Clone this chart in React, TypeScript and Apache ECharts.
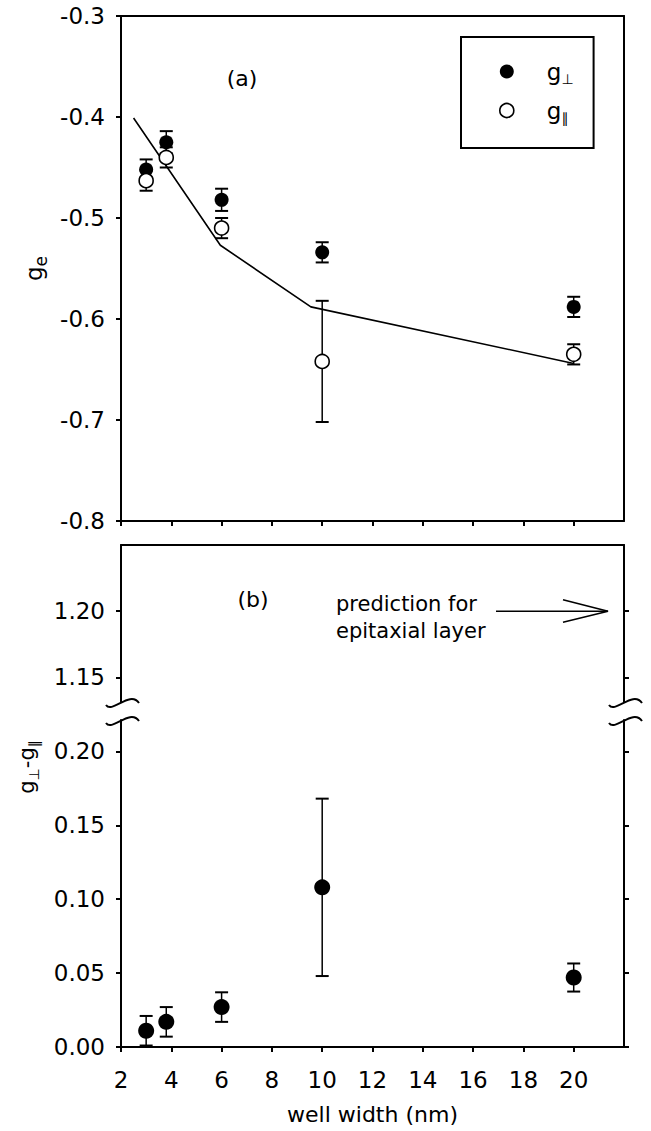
import React, { useEffect, useRef } from "react";
import * as echarts from "echarts";

// ---------- data ----------
const wellWidths = [3, 3.8, 6, 10, 20];
const gPerp = [-0.452, -0.425, -0.482, -0.534, -0.588];
const gPerpErr = [0.01, 0.011, 0.011, 0.01, 0.01];
const gPar = [-0.463, -0.44, -0.51, -0.642, -0.635];
const gParErr = [0.01, 0.01, 0.01, 0.06, 0.01];
const gDiff = [0.011, 0.017, 0.027, 0.108, 0.047];
const gDiffErr = [0.01, 0.01, 0.01, 0.06, 0.0095];
const theoryWidths = [2.5, 5.95, 9.55, 20];
const theoryG = [-0.401, -0.527, -0.588, -0.644];
const epitaxialPrediction = [1.2];

const xTicks = [2, 4, 6, 8, 10, 12, 14, 16, 18, 20];
const topYTicks = [-0.8, -0.7, -0.6, -0.5, -0.4, -0.3];
const upperBreakTicks = [1.15, 1.2];
const lowerBreakTicks = [0, 0.05, 0.1, 0.15, 0.2];

// ---------- layout ----------
const FONT = "DejaVu Sans";
const L = 121;
const R = 624;
const G0 = { top: 16, bottom: 521 };
const G1 = { top: 545, bottom: 702 };
const G2 = { top: 720, bottom: 1047 };

const axisLine = { show: true, onZero: false, lineStyle: { color: "#000", width: 2 } };
const noTick = { show: false };
const noLabel = { show: false };
const noSplit = { show: false };
const tickOut = (vals: number[]) => ({
  show: true,
  inside: false,
  length: 5,
  customValues: vals,
  lineStyle: { color: "#000", width: 2 },
});
const labelStyle = { color: "#000", fontFamily: FONT, fontSize: 23 };

const subRich = (big: number, small: number, drop: number) => ({
  g: { fontFamily: FONT, color: "#000", fontSize: big, lineHeight: big, verticalAlign: "top" },
  s: {
    fontFamily: FONT,
    color: "#000",
    fontSize: small,
    lineHeight: small,
    verticalAlign: "top",
    padding: [drop, 0, 0, 0],
  },
});

function errorBarRenderer(capHalf: number) {
  return (params: any, api: any) => {
    const x = api.value(0);
    const y = api.value(1);
    const e = api.value(2);
    const top = api.coord([x, y + e]);
    const bot = api.coord([x, y - e]);
    return {
      type: "group",
      children: [
        {
          type: "line",
          shape: { x1: top[0], y1: top[1], x2: bot[0], y2: bot[1] },
          style: { stroke: "#000", lineWidth: 1.5 },
        },
        {
          type: "line",
          shape: { x1: top[0] - capHalf, y1: top[1], x2: top[0] + capHalf, y2: top[1] },
          style: { stroke: "#000", lineWidth: 2 },
        },
        {
          type: "line",
          shape: { x1: bot[0] - capHalf, y1: bot[1], x2: bot[0] + capHalf, y2: bot[1] },
          style: { stroke: "#000", lineWidth: 2 },
        },
      ],
    };
  };
}

function breakMark(cx: number, cy: number) {
  return {
    type: "bezierCurve",
    shape: {
      x1: cx - 15,
      y1: cy + 3,
      cpx1: cx - 9,
      cpy1: cy + 12,
      cpx2: cx + 9,
      cpy2: cy - 12,
      x2: cx + 18,
      y2: cy + 1,
    },
    style: { stroke: "#000", lineWidth: 2, fill: null },
    silent: true,
  };
}

function buildOption() {
  const grids = [G0, G1, G2].map((g) => ({
    left: L,
    top: g.top,
    width: R - L,
    height: g.bottom - g.top,
    containLabel: false,
    outerBoundsMode: "none",
  }));

  const xBase = { type: "value", min: 2, max: 22, splitLine: noSplit, axisLine };

  const xAxis = [
    { ...xBase, gridIndex: 0, position: "bottom", axisTick: tickOut(xTicks), axisLabel: noLabel },
    { ...xBase, gridIndex: 0, position: "top", axisTick: noTick, axisLabel: noLabel },
    { ...xBase, gridIndex: 1, position: "top", axisTick: noTick, axisLabel: noLabel },
    {
      ...xBase,
      gridIndex: 2,
      position: "bottom",
      axisTick: tickOut(xTicks),
      axisLabel: { ...labelStyle, customValues: xTicks, margin: 21 },
      name: "well width (nm)",
      nameLocation: "middle",
      nameGap: 56,
      nameTextStyle: { color: "#000", fontFamily: FONT, fontSize: 22 },
    },
  ];

  const topRange = { min: -0.8, max: -0.3, interval: 0.1 };
  const upRange = { min: 1.1314, max: 1.25 };
  const lowRange = { min: 0, max: 0.2212 };

  const yAxis = [
    {
      type: "value",
      gridIndex: 0,
      position: "left",
      ...topRange,
      axisLine,
      splitLine: noSplit,
      axisTick: tickOut(topYTicks),
      axisLabel: { ...labelStyle, customValues: topYTicks, margin: 16, formatter: (v: number) => v.toFixed(1) },
      name: "{g|g}{s|e}",
      nameLocation: "middle",
      nameGap: 68,
      nameTextStyle: { color: "#000", rich: subRich(23, 17, 10) },
    },
    { type: "value", gridIndex: 0, position: "right", ...topRange, axisLine, splitLine: noSplit, axisTick: noTick, axisLabel: noLabel },
    {
      type: "value",
      gridIndex: 1,
      position: "left",
      ...upRange,
      axisLine,
      splitLine: noSplit,
      axisTick: tickOut(upperBreakTicks),
      axisLabel: { ...labelStyle, customValues: upperBreakTicks, margin: 16, formatter: (v: number) => v.toFixed(2) },
    },
    { type: "value", gridIndex: 1, position: "right", ...upRange, axisLine, splitLine: noSplit, axisTick: tickOut(upperBreakTicks), axisLabel: noLabel },
    {
      type: "value",
      gridIndex: 2,
      position: "left",
      ...lowRange,
      axisLine,
      splitLine: noSplit,
      axisTick: tickOut(lowerBreakTicks),
      axisLabel: { ...labelStyle, customValues: lowerBreakTicks, margin: 16, formatter: (v: number) => v.toFixed(2) },
    },
    { type: "value", gridIndex: 2, position: "right", ...lowRange, axisLine, splitLine: noSplit, axisTick: tickOut(lowerBreakTicks), axisLabel: noLabel },
  ];

  const openStyle = { color: "#fff", borderColor: "#000", borderWidth: 1.6, opacity: 1 };

  const series: any[] = [
    {
      name: "theory",
      type: "line",
      xAxisIndex: 0,
      yAxisIndex: 0,
      data: theoryWidths.map((x, i) => [x, theoryG[i]]),
      symbol: "none",
      lineStyle: { color: "#000", width: 1.6 },
      z: 1,
      silent: true,
    },
    {
      name: "g⊥ error",
      type: "custom",
      xAxisIndex: 0,
      yAxisIndex: 0,
      data: wellWidths.map((x, i) => [x, gPerp[i], gPerpErr[i]]),
      encode: { x: 0, y: 1 },
      renderItem: errorBarRenderer(6.5),
      z: 2,
      silent: true,
    },
    {
      name: "g⊥",
      type: "scatter",
      xAxisIndex: 0,
      yAxisIndex: 0,
      data: wellWidths.map((x, i) => [x, gPerp[i]]),
      symbol: "circle",
      symbolSize: 14,
      itemStyle: { color: "#000", opacity: 1 },
      z: 3,
    },
    {
      name: "g∥ error",
      type: "custom",
      xAxisIndex: 0,
      yAxisIndex: 0,
      data: wellWidths.map((x, i) => [x, gPar[i], gParErr[i]]),
      encode: { x: 0, y: 1 },
      renderItem: errorBarRenderer(6.5),
      z: 4,
      silent: true,
    },
    {
      name: "g∥",
      type: "scatter",
      xAxisIndex: 0,
      yAxisIndex: 0,
      data: wellWidths.map((x, i) => [x, gPar[i]]),
      symbol: "circle",
      symbolSize: 14,
      itemStyle: openStyle,
      z: 5,
    },
    {
      name: "diff error",
      type: "custom",
      xAxisIndex: 3,
      yAxisIndex: 4,
      data: wellWidths.map((x, i) => [x, gDiff[i], gDiffErr[i]]),
      encode: { x: 0, y: 1 },
      renderItem: errorBarRenderer(6.5),
      z: 2,
      silent: true,
    },
    {
      name: "g⊥-g∥",
      type: "scatter",
      xAxisIndex: 3,
      yAxisIndex: 4,
      data: wellWidths.map((x, i) => [x, gDiff[i]]),
      symbol: "circle",
      symbolSize: 16,
      itemStyle: { color: "#000", opacity: 1 },
      z: 3,
    },
    {
      name: "prediction",
      type: "custom",
      xAxisIndex: 2,
      yAxisIndex: 2,
      data: epitaxialPrediction.map((v) => [v]),
      dimensions: ["g"],
      encode: { y: 0 },
      renderItem: (params: any, api: any) => {
        const v = api.value(0);
        const py = api.coord([2, v])[1];
        const right = params.coordSys.x + params.coordSys.width;
        const tip = right - 16;
        const start = tip - 112;
        return {
          type: "group",
          children: [
            {
              type: "line",
              shape: { x1: start, y1: py, x2: tip, y2: py },
              style: { stroke: "#000", lineWidth: 1.6 },
            },
            {
              type: "polyline",
              shape: { points: [[tip - 45, py - 11.5], [tip, py], [tip - 45, py + 11]] },
              style: { stroke: "#000", lineWidth: 1.6, fill: null },
            },
          ],
        };
      },
      z: 5,
      silent: true,
    },
  ];

  const graphic: any[] = [
    {
      type: "text",
      x: 242,
      y: 78,
      style: { text: "(a)", fontFamily: FONT, fontSize: 22, fill: "#000", align: "center", verticalAlign: "middle" },
      silent: true,
    },
    {
      type: "text",
      x: 253,
      y: 599,
      style: { text: "(b)", fontFamily: FONT, fontSize: 22, fill: "#000", align: "center", verticalAlign: "middle" },
      silent: true,
    },
    {
      type: "text",
      x: 336,
      y: 590,
      style: {
        text: "prediction for\nepitaxial layer",
        fontFamily: FONT,
        fontSize: 21,
        lineHeight: 27,
        fill: "#000",
        align: "left",
        verticalAlign: "top",
      },
      silent: true,
    },
    {
      type: "text",
      x: 27,
      y: 767,
      rotation: Math.PI / 2,
      style: {
        text: "{g|g}{s|⊥}{g|-g}{s|∥}",
        rich: subRich(21, 14, 10),
        fill: "#000",
        align: "center",
        verticalAlign: "middle",
      },
      silent: true,
    },
    breakMark(L, G1.bottom),
    breakMark(L, G2.top),
    breakMark(R, G1.bottom),
    breakMark(R, G2.top),
  ];

  return {
    animation: false,
    backgroundColor: "#fff",
    grid: grids,
    xAxis,
    yAxis,
    legend: {
      show: true,
      orient: "vertical",
      left: 461,
      top: 37,
      padding: [23, 20, 23, 38],
      itemWidth: 14,
      itemHeight: 14,
      itemGap: 13,
      borderColor: "#000",
      borderWidth: 2,
      backgroundColor: "#fff",
      selectedMode: false,
      data: [
        { name: "g⊥", icon: "circle", itemStyle: { color: "#000" } },
        { name: "g∥", icon: "circle", itemStyle: { color: "#fff", borderColor: "#000", borderWidth: 1.6 } },
      ],
      formatter: (name: string) => (name === "g⊥" ? "{p|}{g|g}{s|⊥}" : "{p|}{g|g}{s|∥}"),
      textStyle: {
        color: "#000",
        rich: {
          ...subRich(23, 14, 12),
          p: { width: 28, fontSize: 23, lineHeight: 23 },
        },
      },
    },
    graphic,
    series,
  };
}

export default function App() {
  const ref = useRef<HTMLDivElement>(null);
  useEffect(() => {
    if (!ref.current) return;
    const chart = echarts.init(ref.current, undefined, { renderer: "svg" });
    chart.setOption(buildOption() as any);
    return () => chart.dispose();
  }, []);
  return (
    <div
      ref={ref}
      style={{ position: "absolute", left: 0, top: 0, width: 651, height: 1131, background: "#fff" }}
    />
  );
}
